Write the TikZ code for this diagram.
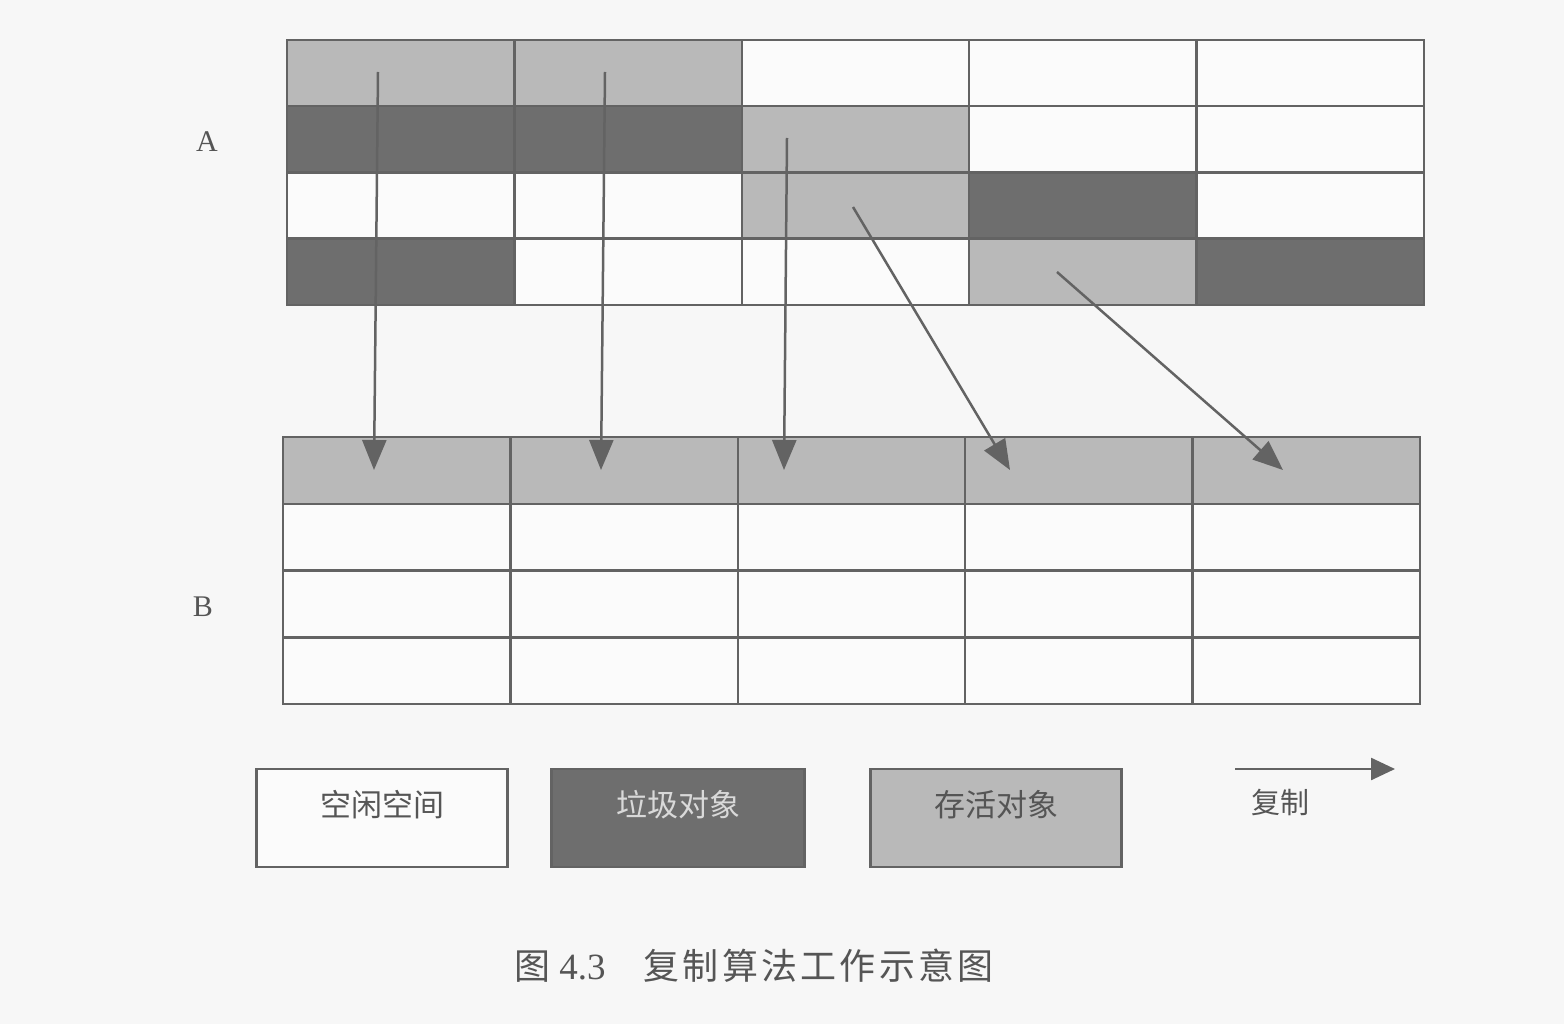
\documentclass[tikz,border=0pt]{standalone}
\usepackage{fontspec}
\setmainfont{Liberation Serif}
\newfontfamily\cjk{Noto Sans CJK SC}
\newfontfamily\cjkcap{Noto Sans CJK SC}[LetterSpace=9]
\usetikzlibrary{arrows.meta}
\definecolor{bgc}{HTML}{F7F7F7}
\definecolor{livec}{HTML}{B9B9B9}
\definecolor{deadc}{HTML}{6E6E6E}
\definecolor{freec}{HTML}{FBFBFB}
\definecolor{linec}{HTML}{636363}
\definecolor{txtc}{HTML}{555555}
\tikzset{
  cell/.style={draw=linec, line width=2.5pt, inner sep=0pt, outer sep=0pt,
    minimum width=227.4pt, anchor=north west},
  legbox/.style={draw=linec, line width=2.5pt, inner sep=0pt,
    minimum width=251pt, minimum height=98pt},
  legtext/.style={inner sep=0pt, yshift=13pt, font=\cjk\fontsize{31}{33}\selectfont},
  copyarrow/.style={draw=linec, line width=2.5pt,
    -{Triangle[length=30pt,width=24pt]}},
  lbl/.style={text=txtc, font=\fontsize{30}{32}\selectfont, inner sep=0pt}
}
\begin{document}
\begin{tikzpicture}[x=1pt,y=-1pt]
\fill[bgc] (0,0) rectangle (1564,1024);
\useasboundingbox (0,0) rectangle (1564,1024);
% grid A
\foreach \r/\cl in {0/{livec,livec,freec,freec,freec},
                    1/{deadc,deadc,livec,freec,freec},
                    2/{freec,freec,livec,deadc,freec},
                    3/{deadc,freec,freec,livec,deadc}}{
  \foreach \col [count=\c from 0] in \cl {
    \node[cell, fill=\col, minimum height=66.25pt] (a-\r-\c)
      at ({287+\c*227.4},{40+\r*66.25}) {};
  }
}
% grid B
\foreach \r/\cl in {0/{livec,livec,livec,livec,livec},
                    1/{freec,freec,freec,freec,freec},
                    2/{freec,freec,freec,freec,freec},
                    3/{freec,freec,freec,freec,freec}}{
  \foreach \col [count=\c from 0] in \cl {
    \node[cell, fill=\col, minimum height=66.75pt] (b-\r-\c)
      at ({283+\c*227.4},{437+\r*66.75}) {};
  }
}
\node[lbl] (labA) at (207,142) {A};
\node[lbl] (labB) at (203,607) {B};
% arrows
\coordinate (s1) at (378,72);   \coordinate (e1) at (374,470);
\coordinate (s2) at (605,72);   \coordinate (e2) at (601,470);
\coordinate (s3) at (787,138);  \coordinate (e3) at (784,470);
\coordinate (s4) at (853,207);  \coordinate (e4) at (1010,470);
\coordinate (s5) at (1057,272); \coordinate (e5) at (1283,470);
\foreach \i in {1,...,5} \draw[copyarrow] (s\i) -- (e\i);
% legend
\node[legbox, fill=freec, label={[legtext, text=txtc]center:空闲空间}] (leg1) at (382,818) {};
\node[legbox, fill=deadc, minimum width=253pt,
      label={[legtext, text=white!85!black]center:垃圾对象}] (leg2) at (678,818) {};
\node[legbox, fill=livec, label={[legtext, text=txtc]center:存活对象}] (leg3) at (996,818) {};
\coordinate (c1) at (1235,769);
\coordinate (c2) at (1395,769);
\draw[draw=linec, line width=2.5pt, -{Triangle[length=24pt,width=22pt]}] (c1) -- (c2);
\node[text=txtc, font=\cjk\fontsize{29}{31}\selectfont, inner sep=0pt] (copylbl) at (1280,802) {复制};
% caption
\node[text=txtc, inner sep=0pt] (cap) at (754,966)
  {{\cjk\fontsize{36}{40}\selectfont 图}\hspace{9pt}{\fontsize{37}{40}\selectfont 4.3}\hspace{38pt}{\cjkcap\fontsize{36}{40}\selectfont 复制算法工作示意图}};
\end{tikzpicture}
\end{document}
